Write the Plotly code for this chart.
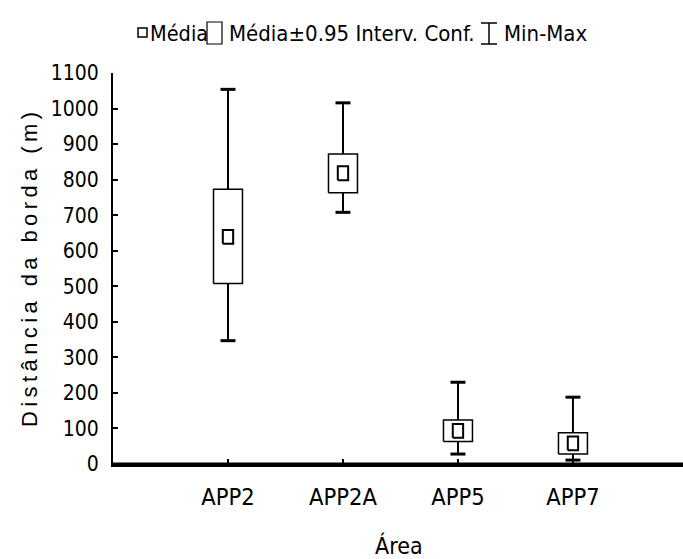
import plotly.graph_objects as go

categories = ["APP2", "APP2A", "APP5", "APP7"]
means = [639, 818, 93, 58]
ci_low = [508, 763, 63, 28]
ci_high = [773, 872, 124, 88]
mins = [347, 708, 28, 11]
maxs = [1054, 1016, 230, 188]
y_ticks = list(range(0, 1101, 100))

NARROW = "DejaVu Sans Condensed, Liberation Sans Narrow, Arial Narrow, Liberation Sans, sans-serif"
REG = "Liberation Sans, Arial, sans-serif"

BOX_HW = 0.126
CAP_HW = 0.065
MEAN_HW = 0.045
MEAN_HH = 19.5

fig = go.Figure()

wx, wy = [], []
for i in range(len(categories)):
    wx += [i, i, None, i, i, None]
    wy += [mins[i], ci_low[i], None, ci_high[i], maxs[i], None]
fig.add_trace(go.Scatter(x=wx, y=wy, mode="lines", line=dict(color="black", width=2),
                         hoverinfo="skip", showlegend=False))
cx, cy = [], []
for i in range(len(categories)):
    cx += [i - CAP_HW, i + CAP_HW, None, i - CAP_HW, i + CAP_HW, None]
    cy += [mins[i], mins[i], None, maxs[i], maxs[i], None]
fig.add_trace(go.Scatter(x=cx, y=cy, mode="lines", line=dict(color="black", width=3),
                         hoverinfo="skip", showlegend=False))
for i in range(len(categories)):
    fig.add_trace(go.Scatter(
        x=[i - BOX_HW, i + BOX_HW, i + BOX_HW, i - BOX_HW, i - BOX_HW],
        y=[ci_low[i], ci_low[i], ci_high[i], ci_high[i], ci_low[i]],
        mode="lines", fill="toself", fillcolor="white",
        line=dict(color="black", width=1.5), hoverinfo="skip", showlegend=False))
for i in range(len(categories)):
    fig.add_trace(go.Scatter(
        x=[i - MEAN_HW, i + MEAN_HW, i + MEAN_HW, i - MEAN_HW, i - MEAN_HW],
        y=[means[i] - MEAN_HH, means[i] - MEAN_HH, means[i] + MEAN_HH, means[i] + MEAN_HH, means[i] - MEAN_HH],
        mode="lines", fill="toself", fillcolor="white",
        line=dict(color="black", width=2), hoverinfo="skip", showlegend=False))

L, T, B = 113, 73, 95
W, H = 683, 559
pw = W - L
ph = H - T - B

def px(x):
    return (x - L) / pw

def py(y):
    return (H - B - y) / ph

shapes = [
    # full-width bottom axis line
    dict(type="line", xref="paper", yref="paper", x0=0, x1=1.2, y0=0, y1=0,
         line=dict(color="black", width=3), layer="above"),
    # legend symbols
    dict(type="rect", xref="paper", yref="paper", x0=px(138), x1=px(147), y0=py(37), y1=py(28),
         line=dict(color="black", width=1.5)),
    dict(type="rect", xref="paper", yref="paper", x0=px(207), x1=px(222), y0=py(44), y1=py(22),
         line=dict(color="black", width=1.2)),
    dict(type="line", xref="paper", yref="paper", x0=px(489), x1=px(489), y0=py(44), y1=py(23),
         line=dict(color="black", width=1.5)),
    dict(type="line", xref="paper", yref="paper", x0=px(481), x1=px(497), y0=py(23), y1=py(23),
         line=dict(color="black", width=1.5)),
    dict(type="line", xref="paper", yref="paper", x0=px(481), x1=px(497), y0=py(44), y1=py(44),
         line=dict(color="black", width=1.5)),
]

annotations = [
    dict(text="Média", xref="paper", yref="paper", x=px(148), y=py(33), xanchor="left", yanchor="middle",
         showarrow=False, font=dict(family=NARROW, size=21.5, color="black")),
    dict(text="Média±0.95 Interv. Conf.", xref="paper", yref="paper", x=px(227), y=py(33), xanchor="left",
         yanchor="middle", showarrow=False, font=dict(family=NARROW, size=22, color="black")),
    dict(text="Min-Max", xref="paper", yref="paper", x=px(502), y=py(33), xanchor="left", yanchor="middle",
         showarrow=False, font=dict(family=NARROW, size=22, color="black")),
    dict(text="\u2009".join("Distância da borda (m)"), xref="paper", yref="paper", x=px(29), y=py(270),
         textangle=-90, xanchor="center", yanchor="middle", showarrow=False,
         font=dict(family=REG, size=22, color="black")),
    dict(text="Área", xref="paper", yref="paper", x=px(399), y=py(545), xanchor="center", yanchor="middle",
         showarrow=False, font=dict(family=NARROW, size=23, color="black")),
]

fig.update_layout(
    width=W, height=H, autosize=False,
    margin=dict(l=L, r=0, t=T, b=B, autoexpand=False),
    plot_bgcolor="white", paper_bgcolor="white",
    showlegend=False,
    shapes=shapes, annotations=annotations,
    xaxis=dict(range=[-1, 3.957], tickmode="array", tickvals=list(range(len(categories))),
               ticktext=categories, ticks="inside", ticklen=5, tickwidth=1.5, tickcolor="black",
               showline=True, linecolor="black", linewidth=3, showgrid=False, zeroline=False,
               ticklabelstandoff=10, automargin=False,
               tickfont=dict(family=NARROW, size=23.5, color="black"), fixedrange=True),
    yaxis=dict(range=[0, 1100], tickmode="array", tickvals=y_ticks, ticks="inside", ticklen=5,
               tickwidth=1.5, tickcolor="black", showline=True, linecolor="black", linewidth=2,
               showgrid=False, zeroline=False, ticklabelstandoff=8, automargin=False,
               tickfont=dict(family=NARROW, size=21, color="black"), fixedrange=True),
)

fig.write_html("out.html",
               config={"displayModeBar": False, "responsive": False},
               post_script="document.body.style.margin='0';document.body.style.padding='0';"
                           "document.documentElement.style.overflow='hidden';")
